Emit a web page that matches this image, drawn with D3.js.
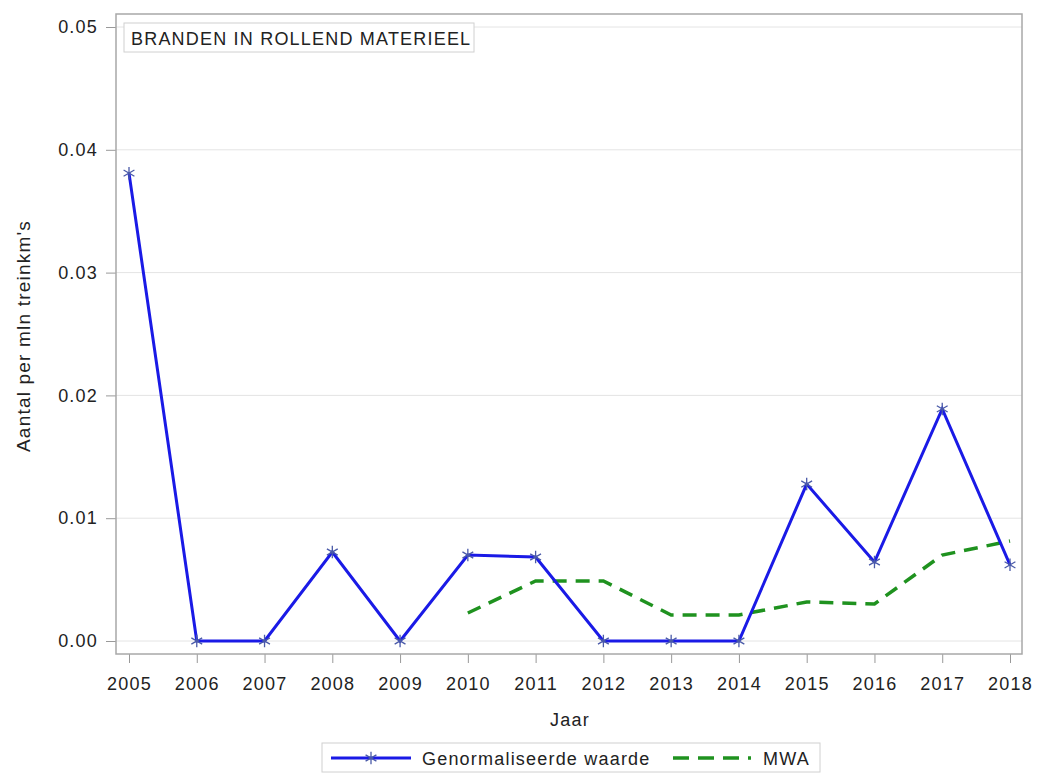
<!DOCTYPE html>
<html>
<head>
<meta charset="utf-8">
<script src="https://cdn.jsdelivr.net/npm/d3@7"></script>
<style>
  body { margin: 0; background: #fff; }
  text { font-family: "Liberation Sans", Arial, sans-serif; fill: #222; letter-spacing: 1.2px; }
</style>
</head>
<body>
<script>
const years = [2005, 2006, 2007, 2008, 2009, 2010, 2011, 2012, 2013, 2014, 2015, 2016, 2017, 2018];
const normValues = [0.0381, 0, 0, 0.00725, 0, 0.0070, 0.00684, 0, 0, 0, 0.01278, 0.00643, 0.0189, 0.0062];
const mwaYears = [2010, 2011, 2012, 2013, 2014, 2015, 2016, 2017, 2018];
const mwaValues = [0.00228, 0.00489, 0.00489, 0.00212, 0.00212, 0.00318, 0.00301, 0.0070, 0.00814];
const yTicks = [0, 0.01, 0.02, 0.03, 0.04, 0.05];

const width = 1042, height = 774;
const frame = { left: 116, right: 1022, top: 14, bottom: 654 };

const svg = d3.select('body').append('svg')
  .attr('width', width).attr('height', height);

const xScale = d3.scaleLinear().domain([2005, 2018]).range([129, 1010]);
const yScale = d3.scaleLinear().domain([0, 0.05]).range([641, 27]);

// gridlines
svg.append('g').selectAll('line').data(yTicks).enter().append('line')
  .attr('x1', frame.left).attr('x2', frame.right)
  .attr('y1', d => yScale(d)).attr('y2', d => yScale(d))
  .attr('stroke', '#e4e4e4').attr('stroke-width', 1);

// axes
const yAxis = d3.axisLeft(yScale).tickValues(yTicks).tickFormat(d3.format('.2f')).tickSize(10).tickPadding(8).tickSizeOuter(0);
const xAxis = d3.axisBottom(xScale).tickValues(years).tickFormat(d3.format('d')).tickSize(9).tickPadding(6).tickSizeOuter(0);

const gy = svg.append('g').attr('transform', `translate(${frame.left},0)`).call(yAxis);
const gx = svg.append('g').attr('transform', `translate(0,${frame.bottom})`).call(xAxis);
[gy, gx].forEach(g => {
  g.select('.domain').remove();
  g.selectAll('line').attr('stroke', '#999');
  g.selectAll('text').attr('font-size', 18).attr('fill', '#222')
    .style('font-family', '"Liberation Sans", Arial, sans-serif');
});
gx.selectAll('text').attr('y', 36).attr('dy', null);

// frame
svg.append('rect')
  .attr('x', frame.left).attr('y', frame.top)
  .attr('width', frame.right - frame.left).attr('height', frame.bottom - frame.top)
  .attr('fill', 'none').attr('stroke', '#a8a8a8').attr('stroke-width', 1.5);

// axis labels
svg.append('text').attr('x', 570).attr('y', 726).attr('text-anchor', 'middle')
  .attr('font-size', 18).text('Jaar');
svg.append('text').attr('transform', 'translate(30,336) rotate(-90)')
  .attr('text-anchor', 'middle').attr('font-size', 19).text("Aantal per mln treinkm's");

// title box
svg.append('rect').attr('x', 124).attr('y', 23).attr('width', 350).attr('height', 29)
  .attr('fill', '#fff').attr('stroke', '#d0d0d0');
svg.append('text').attr('x', 131).attr('y', 45).attr('font-size', 18).text('BRANDEN IN ROLLEND MATERIEEL');

// lines
const line = d3.line().x(d => xScale(d[0])).y(d => yScale(d[1]));
const normData = years.map((y, i) => [y, normValues[i]]);
const mwaData = mwaYears.map((y, i) => [y, mwaValues[i]]);

svg.append('path').datum(mwaData).attr('d', line)
  .attr('fill', 'none').attr('stroke', '#1f921f').attr('stroke-width', 3.5)
  .attr('stroke-dasharray', '14,9');

svg.append('path').datum(normData).attr('d', line)
  .attr('fill', 'none').attr('stroke', '#1a1ae6').attr('stroke-width', 3);

const star = d3.symbol().type(d3.symbolAsterisk).size(110);
svg.append('g').selectAll('path').data(normData).enter().append('path')
  .attr('transform', d => `translate(${xScale(d[0])},${yScale(d[1])})`)
  .attr('d', star)
  .attr('fill', 'none').attr('stroke', '#4a5aa8').attr('stroke-width', 1.3);

// legend
const lg = svg.append('g');
lg.append('rect').attr('x', 322).attr('y', 743).attr('width', 498).attr('height', 29)
  .attr('fill', '#fff').attr('stroke', '#d0d0d0');
lg.append('line').attr('x1', 331).attr('x2', 411).attr('y1', 758).attr('y2', 758)
  .attr('stroke', '#1a1ae6').attr('stroke-width', 3);
lg.append('path').attr('transform', 'translate(371,758)').attr('d', star)
  .attr('fill', 'none').attr('stroke', '#4a5aa8').attr('stroke-width', 1.3);
lg.append('text').attr('x', 422).attr('y', 765).attr('font-size', 18).text('Genormaliseerde waarde');
lg.append('line').attr('x1', 673).attr('x2', 751).attr('y1', 758).attr('y2', 758)
  .attr('stroke', '#1f921f').attr('stroke-width', 3.5).attr('stroke-dasharray', '16,9');
lg.append('text').attr('x', 763).attr('y', 765).attr('font-size', 18).text('MWA');
</script>
</body>
</html>
